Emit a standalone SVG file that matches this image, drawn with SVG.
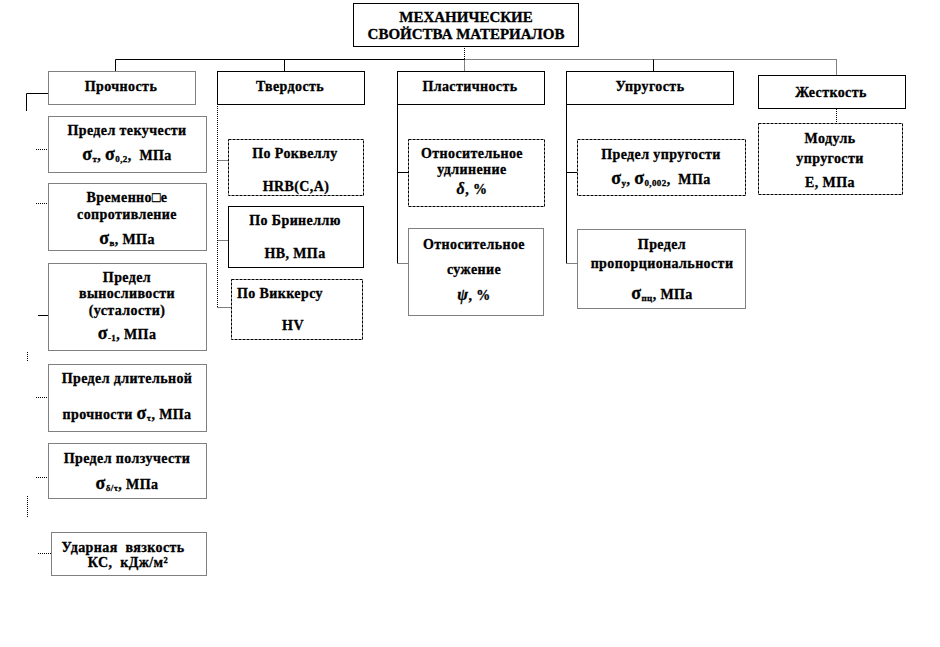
<svg xmlns="http://www.w3.org/2000/svg" width="940" height="647" viewBox="0 0 940 647">
<style>
.b{fill:#fff;stroke:#000;stroke-width:1}
.d{fill:#fff;stroke:#000;stroke-width:1;stroke-dasharray:1 1}
.ds{fill:#fff;stroke:#000;stroke-width:1;stroke-dasharray:3 1}
.t{font-family:"Liberation Serif","Times New Roman",serif;font-weight:bold;font-size:14px;letter-spacing:0.4px;fill:#000;stroke:#000;stroke-width:0.3;text-anchor:middle}
.h{font-size:15px;letter-spacing:0}
.s{font-size:18px}
.sub{font-size:9px}
.i{font-style:italic;font-size:16px}
.c{stroke:#000;stroke-width:1;fill:none}
.cd{stroke:#000;stroke-width:1;fill:none;stroke-dasharray:1 1}
</style>
<rect width="940" height="647" fill="#fff"/>
<g id="connectors">
<path class="cd" d="M464.5 48V59.5"/>
<path class="c" d="M115.5 59.5H464.5"/>
<path class="cd" d="M464.5 59.5H836.5"/>
<path class="c" d="M115.5 59.5V71M284.5 59.5V71"/>
<path class="cd" d="M464.5 59.5V71M836.5 59.5V75"/>
<path class="c" d="M653.5 59.5V71"/>
<path class="c" d="M48 93.5H26.5V111"/>
<path class="cd" d="M27.5 352V362M27.5 496V518"/>
<path class="cd" d="M36 149.5H48M36 203.5H48M36 397.5H48M36 477.5H48M38 553.5H51"/>
<path class="c" d="M38 315.5H48"/>
<path class="cd" d="M217.5 104V308M217.5 160.5H228M217.5 240.5H228M217.5 307.5H231"/>
<path class="c" d="M397.5 104V263M397.5 172.5H408"/>
<path class="cd" d="M397.5 263.5H408"/>
<path class="c" d="M566.5 104V263M566.5 172.5H577"/>
<path class="cd" d="M566.5 263.5H577"/>
<path class="cd" d="M836.5 109V123"/>
</g>
<g id="title">
<rect class="b" x="353.5" y="3.5" width="225" height="43"/>
<text class="t h" x="466" y="22">МЕХАНИЧЕСКИЕ</text>
<text class="t h" x="466" y="39">СВОЙСТВА МАТЕРИАЛОВ</text>
</g>
<g id="prochnost">
<rect class="d" x="48.5" y="71.5" width="147" height="33"/>
<text class="t" x="121" y="91">Прочность</text>
</g>
<g id="tekuchest">
<rect class="d" x="48.5" y="116.5" width="158" height="56"/>
<text class="t" x="127" y="135">Предел текучести</text>
<text class="t" x="127" y="160"><tspan class="s">σ</tspan><tspan class="sub" dy="2">т</tspan><tspan dy="-2">, </tspan><tspan class="s">σ</tspan><tspan class="sub" dy="2">0,2</tspan><tspan dy="-2">,&#160; МПа</tspan></text>
</g>
<g id="vremennoe">
<rect class="d" x="48.5" y="183.5" width="158" height="67"/>
<text class="t" x="127" y="202">Временно□е</text>
<text class="t" x="127" y="219">сопротивление</text>
<text class="t" x="127" y="244"><tspan class="s">σ</tspan><tspan class="sub" dy="2">в</tspan><tspan dy="-2">, МПа</tspan></text>
</g>
<g id="vynoslivost">
<rect class="d" x="48.5" y="263.5" width="158" height="87"/>
<text class="t" x="127" y="282">Предел</text>
<text class="t" x="127" y="298">выносливости</text>
<text class="t" x="127" y="315">(усталости)</text>
<text class="t" x="127" y="339"><tspan class="s">σ</tspan><tspan class="sub" dy="2">-1</tspan><tspan dy="-2">, МПа</tspan></text>
</g>
<g id="dlitelnaya">
<rect class="d" x="48.5" y="364.5" width="158" height="67"/>
<text class="t" x="127" y="383">Предел длительной</text>
<text class="t" x="127" y="419">прочности <tspan class="s">σ</tspan><tspan class="sub" dy="2">τ</tspan><tspan dy="-2">, МПа</tspan></text>
</g>
<g id="polzuchest">
<rect class="d" x="48.5" y="443.5" width="158" height="55"/>
<text class="t" x="127" y="463">Предел ползучести</text>
<text class="t" x="127" y="489"><tspan class="s">σ</tspan><tspan class="sub" dy="2">δ/τ</tspan><tspan dy="-2">, МПа</tspan></text>
</g>
<g id="udarnaya">
<rect class="d" x="51.5" y="532.5" width="155" height="43"/>
<text class="t" x="123" y="552">Ударная&#160; вязкость</text>
<text class="t" x="128" y="567">КС,&#160; кДж/м²</text>
</g>
<g id="tverdost">
<rect class="b" x="217.5" y="71.5" width="147" height="33"/>
<text class="t" x="290" y="91">Твердость</text>
</g>
<g id="rokvell">
<rect class="ds" x="228.5" y="139.5" width="135" height="56"/>
<text class="t" x="295" y="158">По Роквеллу</text>
<text class="t" x="296" y="191">HRB(C,A)</text>
</g>
<g id="brinell">
<rect class="b" x="228.5" y="206.5" width="135" height="61"/>
<text class="t" x="295" y="225">По Бринеллю</text>
<text class="t" x="295" y="258">HB, МПа</text>
</g>
<g id="vikkers">
<rect class="ds" x="231.5" y="279.5" width="131" height="60"/>
<text class="t" x="280" y="298">По Виккерсу</text>
<text class="t" x="293" y="330">HV</text>
</g>
<g id="plastichnost">
<rect class="b" x="397.5" y="71.5" width="147" height="33"/>
<text class="t" x="470" y="91">Пластичность</text>
</g>
<g id="udlinenie">
<rect class="ds" x="408.5" y="139.5" width="136" height="67"/>
<text class="t" x="472" y="158">Относительное</text>
<text class="t" x="472" y="174">удлинение</text>
<text class="t" x="472" y="194"><tspan class="i">δ</tspan>, %</text>
</g>
<g id="suzhenie">
<rect class="d" x="408.5" y="228.5" width="135" height="87"/>
<text class="t" x="474" y="249">Относительное</text>
<text class="t" x="474" y="274">сужение</text>
<text class="t" x="474" y="300"><tspan class="i">ψ</tspan>, %</text>
</g>
<g id="uprugost">
<rect class="b" x="566.5" y="71.5" width="167" height="33"/>
<text class="t" x="650" y="91">Упругость</text>
</g>
<g id="predel-uprugosti">
<rect class="ds" x="577.5" y="139.5" width="168" height="56"/>
<text class="t" x="661" y="159">Предел упругости</text>
<text class="t" x="661" y="184"><tspan class="s">σ</tspan><tspan class="sub" dy="2">у</tspan><tspan dy="-2">, </tspan><tspan class="s">σ</tspan><tspan class="sub" dy="2">0,002</tspan><tspan dy="-2">,&#160; МПа</tspan></text>
</g>
<g id="proporcionalnost">
<rect class="d" x="577.5" y="229.5" width="168" height="79"/>
<text class="t" x="662" y="249">Предел</text>
<text class="t" x="662" y="268">пропорциональности</text>
<text class="t" x="662" y="299"><tspan class="s">σ</tspan><tspan class="sub" dy="2">пц</tspan><tspan dy="-2">, МПа</tspan></text>
</g>
<g id="zhestkost">
<rect class="b" x="758.5" y="75.5" width="147" height="33"/>
<text class="t" x="831" y="97">Жесткость</text>
</g>
<g id="modul">
<rect class="ds" x="758.5" y="123.5" width="144" height="71"/>
<text class="t" x="830" y="143">Модуль</text>
<text class="t" x="830" y="163">упругости</text>
<text class="t" x="830" y="187">E, МПа</text>
</g>
</svg>
